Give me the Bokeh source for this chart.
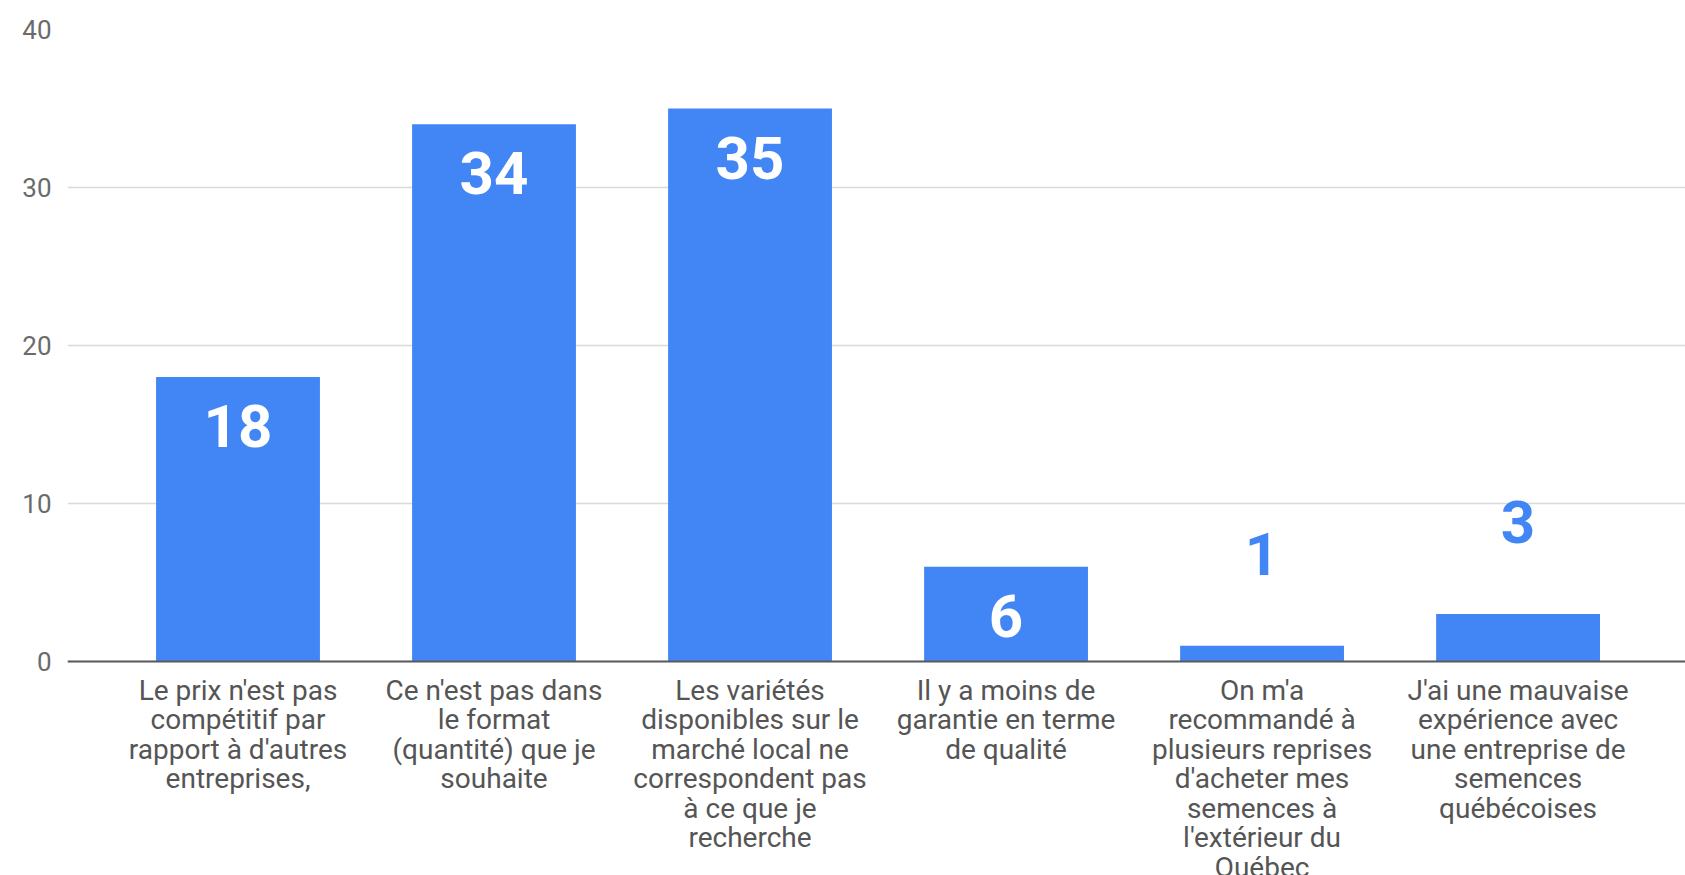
from bokeh.plotting import figure
from bokeh.models import Range1d, FixedTicker, ColumnDataSource, Span
from bokeh.core.properties import value
from bokeh.embed import file_html
from bokeh.resources import INLINE

# ---- data ----
categories = [
    "Le prix n'est pas\ncompétitif par\nrapport à d'autres\nentreprises,",
    "Ce n'est pas dans\nle format\n(quantité) que je\nsouhaite",
    "Les variétés\ndisponibles sur le\nmarché local ne\ncorrespondent pas\nà ce que je\nrecherche",
    "Il y a moins de\ngarantie en terme\nde qualité",
    "On m'a\nrecommandé à\nplusieurs reprises\nd'acheter mes\nsemences à\nl'extérieur du\nQuébec",
    "J'ai une mauvaise\nexpérience avec\nune entreprise de\nsemences\nquébécoises",
]
counts = [18, 34, 35, 6, 1, 3]
y_ticks = [0, 10, 20, 30, 40]

BAR_COLOR = "#4285F4"

xs = list(range(len(categories)))
inside = [c >= 5 for c in counts]
src = ColumnDataSource(dict(
    x=xs,
    top=counts,
    label=[str(c) for c in counts],
    color=["#FFFFFF" if i else BAR_COLOR for i in inside],
    yoff=[49 if i else -92 for i in inside],
))
cat_src = ColumnDataSource(dict(x=xs, y=[0] * len(xs), text=categories))

p = figure(width=1685, height=875, output_backend="svg", toolbar_location=None,
           x_range=Range1d(-0.666, 5.654), y_range=Range1d(-13.544, 40),
           x_axis_location=None,
           min_border_top=29, min_border_left=67, min_border_right=0,
           min_border_bottom=0)
p.outline_line_color = None
p.background_fill_color = "white"
p.border_fill_color = "white"

p.xgrid.grid_line_color = None
p.ygrid.ticker = FixedTicker(ticks=y_ticks)
p.ygrid.grid_line_color = "#dadada"
p.ygrid.grid_line_width = 1.5

p.vbar(x="x", top="top", bottom=0, width=0.64, source=src,
       fill_color=BAR_COLOR, line_color=None)

# baseline (x axis line)
p.add_layout(Span(location=0, dimension="width", line_color="#5a5a5a", line_width=2))

p.text(x="x", y="top", text="label", source=src, text_color="color",
       y_offset="yoff", text_align="center", text_baseline="alphabetic",
       text_font=value("Roboto"), text_font_style="bold", text_font_size="60px")

# category labels below the baseline
p.text(x="x", y="y", text="text", source=cat_src, y_offset=12,
       text_align="center", text_baseline="top", text_color="#555555",
       text_font=value("Roboto"), text_font_size="28px", text_line_height=0.894)

p.yaxis.ticker = FixedTicker(ticks=y_ticks)
p.yaxis.major_label_text_font = "Roboto"
p.yaxis.major_label_text_font_size = "26px"
p.yaxis.major_label_text_color = "#6b6b6b"
p.yaxis.major_label_standoff = 10
p.yaxis.major_tick_line_color = None
p.yaxis.minor_tick_line_color = None
p.yaxis.axis_line_color = None

open("out.html", "w").write(file_html(p, INLINE))
